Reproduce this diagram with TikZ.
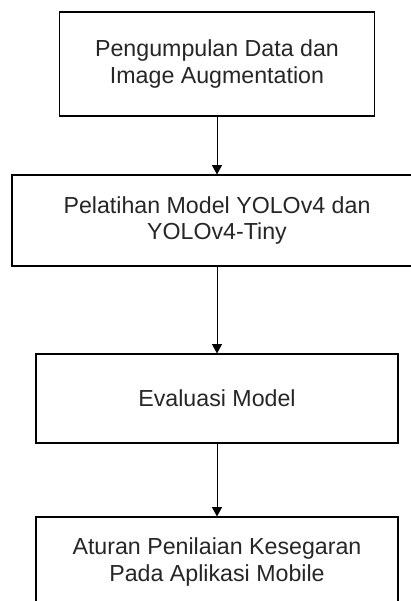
\documentclass[tikz,border=0pt]{standalone}
\usepackage{fontspec}
\setmainfont{Liberation Sans}
\usetikzlibrary{arrows.meta, positioning}

\begin{document}
\begin{tikzpicture}[x=0.75pt, y=-0.75pt,
    stepbox/.style={draw, line width=0.8pt, align=center, inner sep=0pt,
        text=black!85, font=\fontsize{17.4}{20.2}\selectfont},
    flow/.style={-{Triangle[width=7.5pt, length=7pt]}, line width=0.75pt}]
    \useasboundingbox (0,0) rectangle (411,601);
    \clip (0,0) rectangle (411,601);

    % process steps
    \node[stepbox, minimum width=315*0.75pt, minimum height=104*0.75pt] (data) at (217,64)
        {Pengumpulan Data dan\\Image Augmentation};
    \node[stepbox, minimum width=410*0.75pt, minimum height=91*0.75pt] (latih) at (217,220.5)
        {Pelatihan Model YOLOv4 dan\\YOLOv4-Tiny};
    \node[stepbox, minimum width=362*0.75pt, minimum height=89*0.75pt] (eval) at (217,398.5)
        {Evaluasi Model};
    \node[stepbox, minimum width=362*0.75pt, minimum height=90*0.75pt] (aturan) at (217,562)
        {Aturan Penilaian Kesegaran\\Pada Aplikasi Mobile};

    % connectors
    \draw[flow] (data) -- (latih);
    \draw[flow] (latih) -- (eval);
    \draw[flow] (eval) -- (aturan);
\end{tikzpicture}
\end{document}
